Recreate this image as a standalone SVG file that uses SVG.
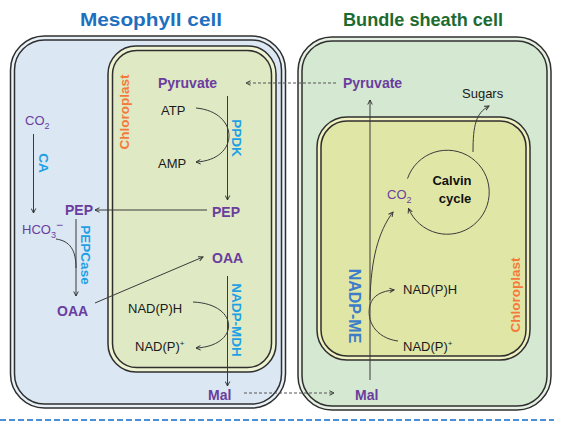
<svg xmlns="http://www.w3.org/2000/svg" width="573" height="425" viewBox="0 0 573 425">
<defs>
<style>
.cellline{stroke:#2f2f2f;stroke-width:1.5}
.t{font-family:"Liberation Sans",Arial,sans-serif}
.pur{fill:#6a3d9e}
.pb{fill:#6a3d9e;font-weight:bold;font-size:14px}
.blk{fill:#1a1a1a;font-size:13px}
.enz{fill:#1ea0e4;font-weight:bold;font-size:13.5px}
.chl{fill:#f47a3c;font-weight:bold;font-size:13.5px}
.ln{fill:none;stroke:#3a3a3a;stroke-width:1}
.dash{fill:none;stroke:#555;stroke-width:1;stroke-dasharray:3 2}
</style>
<marker id="ah" viewBox="0 0 8 8" refX="7" refY="4" markerWidth="6" markerHeight="6" orient="auto" markerUnits="userSpaceOnUse">
<path d="M1,1 L7,4 L1,7" fill="none" stroke="#333" stroke-width="1.3"/>
</marker>
</defs>
<rect width="573" height="425" fill="#ffffff"/>

<g id="titles" class="t" font-weight="bold" font-size="18.5" text-anchor="middle">
<text x="151" y="26" fill="#1f6fbf" textLength="142" lengthAdjust="spacingAndGlyphs">Mesophyll cell</text>
<text x="423" y="26" fill="#1d6b30" textLength="160" lengthAdjust="spacingAndGlyphs">Bundle sheath cell</text>
</g>

<g id="mesophyll-cell">
<rect x="10.5" y="36" width="275" height="372" rx="34" fill="#e8f0f8" class="cellline"/>
<rect x="14.5" y="40" width="267" height="364" rx="30" fill="#dbe7f3" class="cellline"/>
</g>
<g id="bundle-sheath-cell">
<rect x="298" y="37" width="253" height="373" rx="34" fill="#e6f1e3" class="cellline"/>
<rect x="302" y="41" width="245" height="365" rx="30" fill="#d5e8d2" class="cellline"/>
</g>
<g id="mesophyll-chloroplast">
<rect x="108" y="46" width="168" height="326" rx="28" fill="#eef3d2" class="cellline"/>
<rect x="112.5" y="50.5" width="159" height="317" rx="24" fill="#dfe9c4" class="cellline"/>
<text class="t chl" transform="translate(129,112) rotate(-90)" text-anchor="middle">Chloroplast</text>
</g>
<g id="bundle-sheath-chloroplast">
<rect x="317" y="117" width="213" height="243" rx="30" fill="#f1f2c2" class="cellline"/>
<rect x="321" y="121" width="205" height="235" rx="26" fill="#e0e7a6" class="cellline"/>
<text class="t chl" transform="translate(520,295) rotate(-90)" text-anchor="middle">Chloroplast</text>
</g>

<g id="connectors">
<path class="dash" d="M336,83 L246,83" marker-end="url(#ah)"/>
<path class="ln" d="M227.5,96 L227.5,200" marker-end="url(#ah)"/>
<path class="ln" d="M196,108 C240,112 240,160 196,162" marker-end="url(#ah)"/>
<path class="ln" d="M207,210 L95,210" marker-end="url(#ah)"/>
<path class="ln" d="M33.5,134 L33.5,213" marker-end="url(#ah)"/>
<path class="ln" d="M76,219 L76,296" marker-end="url(#ah)"/>
<path class="ln" d="M56,239 C70,241 76,250 76,268"/>
<path class="ln" d="M95,303 L203,257" marker-end="url(#ah)"/>
<path class="ln" d="M227.5,276 L227.5,386" marker-end="url(#ah)"/>
<path class="ln" d="M193,302 C240,304 240,346 196,348" marker-end="url(#ah)"/>
<path class="dash" d="M244,393 L334,393" marker-end="url(#ah)"/>
<path class="ln" d="M370,380 L370,100" marker-end="url(#ah)"/>
<path class="ln" d="M398,341 C375,338 366,320 370,305 C373,295 382,291 394,290" marker-end="url(#ah)"/>
<path class="ln" d="M370,300 C371,260 378,232 393,212" marker-end="url(#ah)"/>
<path class="ln" d="M407.5,178.6 A42,42 0 1 1 408.5,208.5" marker-end="url(#ah)"/>
<path class="ln" d="M473,152 C473,125 476,113 489,106" marker-end="url(#ah)"/>
</g>

<g id="mesophyll-labels" class="t">
<text id="pyruvate-m" class="pb" x="158" y="88">Pyruvate</text>
<text id="atp" class="blk" x="161" y="115">ATP</text>
<text id="amp" class="blk" x="158" y="168">AMP</text>
<text id="ppdk" class="enz" transform="translate(232,138) rotate(90)" text-anchor="middle">PPDK</text>
<text id="pep-chl" class="pb" x="212" y="217">PEP</text>
<text id="pep-cyt" class="pb" x="65" y="215">PEP</text>
<text id="co2-m" class="pur" font-size="13" x="25" y="125">CO<tspan font-size="9" dy="4">2</tspan></text>
<text id="ca" class="enz" transform="translate(39,163) rotate(90)" text-anchor="middle">CA</text>
<text id="hco3" class="pur" font-size="13" x="22" y="234">HCO<tspan font-size="9" dy="4">3</tspan><tspan font-size="12" dy="-9">−</tspan></text>
<text id="pepcase" class="enz" transform="translate(81,255) rotate(90)" text-anchor="middle">PEPCase</text>
<text id="oaa-cyt" class="pb" x="57" y="316">OAA</text>
<text id="oaa-chl" class="pb" x="212" y="263">OAA</text>
<text id="nadph-m" class="blk" x="128" y="313">NAD(P)H</text>
<text id="nadp-m" class="blk" x="135" y="351">NAD(P)<tspan font-size="8" dy="-5">+</tspan></text>
<text id="nadp-mdh" class="enz" transform="translate(232,320) rotate(90)" text-anchor="middle">NADP-MDH</text>
<text id="mal-m" class="pb" x="208" y="400">Mal</text>
</g>

<g id="bundle-sheath-labels" class="t">
<text id="pyruvate-bs" class="pb" x="343" y="88">Pyruvate</text>
<text id="sugars" class="blk" x="462" y="98">Sugars</text>
<text id="calvin" fill="#111" font-weight="bold" font-size="13" text-anchor="middle" x="452" y="185">Calvin</text>
<text id="cycle" fill="#111" font-weight="bold" font-size="13" text-anchor="middle" x="455" y="203">cycle</text>
<text id="co2-bs" class="pur" font-size="13" x="387" y="199">CO<tspan font-size="9" dy="4">2</tspan></text>
<text id="nadp-me" fill="#3d7cc9" font-weight="bold" font-size="16" transform="translate(349,306) rotate(90)" text-anchor="middle">NADP-ME</text>
<text id="nadph-bs" class="blk" x="403" y="294">NAD(P)H</text>
<text id="nadp-bs" class="blk" x="403" y="351">NAD(P)<tspan font-size="8" dy="-5">+</tspan></text>
<text id="mal-bs" class="pb" x="355" y="400">Mal</text>
</g>

<path id="divider" d="M0,420 L554,420" fill="none" stroke="#4a90d9" stroke-width="2" stroke-dasharray="6 3"/>
</svg>
